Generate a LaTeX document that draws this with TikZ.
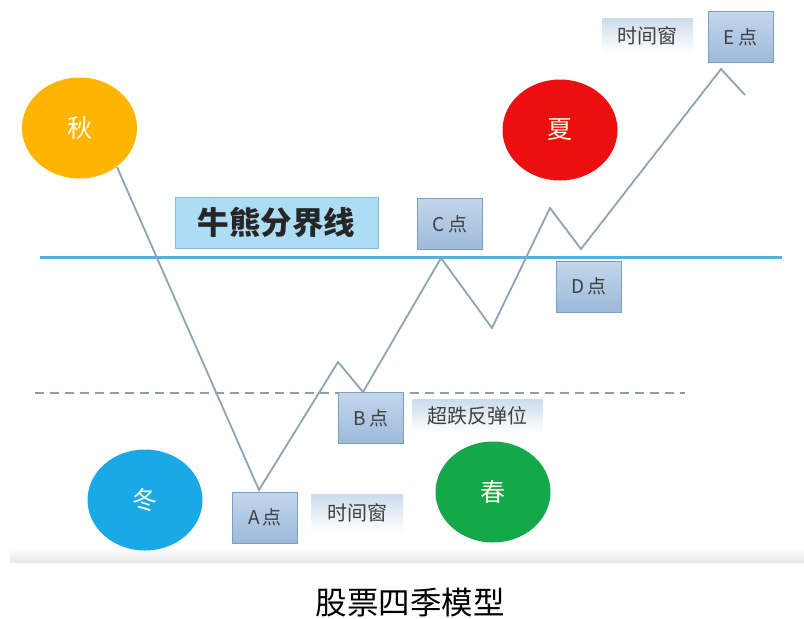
\documentclass[tikz,border=0pt]{standalone}
\usepackage{fontspec}
\setmainfont{Noto Sans CJK SC}
\newfontfamily\cjk{Noto Sans CJK SC}
\usetikzlibrary{shapes.geometric}
\definecolor{cAut}{HTML}{FFB400}
\definecolor{cSum}{HTML}{EC0F0F}
\definecolor{cWin}{HTML}{18A9E6}
\definecolor{cSpr}{HTML}{15A84A}
\definecolor{cLine}{HTML}{8FA3B6}
\definecolor{cBull}{HTML}{4DB3E6}
\definecolor{cDash}{HTML}{8D9DAC}
\definecolor{cPtTop}{HTML}{C3D6EC}
\definecolor{cPtBot}{HTML}{9DBADA}
\definecolor{cPtBd}{HTML}{7F9DBE}
\definecolor{cLabTop}{HTML}{CCDCEC}
\definecolor{cTxt}{HTML}{404040}
\definecolor{cBullFill}{HTML}{ADDDF5}
\definecolor{cBullBd}{HTML}{80BDE0}
\tikzset{
  season/.style={ellipse, minimum width=115pt, minimum height=101pt, inner sep=0pt, text=white!92!yellow, font=\cjk\fontsize{25}{25}\selectfont},
  ptbox/.style={rectangle, minimum width=65pt, minimum height=51pt, inner sep=0pt, top color=cPtTop, bottom color=cPtBot, draw=cPtBd, line width=1pt, text=cTxt, font=\cjk\fontsize{19}{19}\selectfont},
  labbox/.style={rectangle, inner sep=0pt, top color=cLabTop, bottom color=white, text=cTxt, font=\cjk\fontsize{20}{20}\selectfont},
  trend/.style={cLine, line width=1.8pt, line join=miter},
}
\begin{document}
\begin{tikzpicture}[x=1pt,y=-1pt]
\useasboundingbox (0,0) rectangle (804,619);
\fill[white] (0,0) rectangle (804,619);
\shade[top color=white, bottom color=black!9] (10,548) rectangle (804,562);
% seasons
\node[season, fill=cAut] (qiu) at (79.5,128) {秋};
\node[season, fill=cSum] (xia) at (560,130) {夏};
\node[season, fill=cWin] (dong) at (145,500) {冬};
\node[season, fill=cSpr] (chun) at (493,492) {春};
% reference lines
\coordinate (bl) at (40,257);
\coordinate (br) at (782,257);
\draw[cBull, line width=3pt] (bl) -- (br);
\coordinate (dl) at (35,393);
\coordinate (dr) at (685,393);
\draw[cDash, line width=1.5pt, dash pattern=on 9pt off 6pt] (dl) -- (dr);
% bull/bear label
\node[rectangle, minimum width=203pt, minimum height=51pt, inner sep=0pt, fill=cBullFill, draw=cBullBd, line width=1pt, font=\cjk\bfseries\fontsize{31.5}{31.5}\selectfont, text=black!85] (bull) at (276.5,222.5) {牛熊分界线};
% point boxes
\node[ptbox] (A) at (265,517.5) {A\,点};
\node[ptbox] (B) at (371,418) {B\,点};
\node[ptbox] (C) at (450,224) {C\,点};
\node[ptbox] (D) at (589,286.5) {D\,点};
\node[ptbox] (E) at (740.5,37) {E\,点};
% labels
\node[labbox, minimum width=92pt, minimum height=38pt] (twA) at (357,513) {时间窗};
\node[labbox, minimum width=130pt, minimum height=33pt] (oversold) at (477.5,416) {超跌反弹位};
\node[labbox, minimum width=91pt, minimum height=35pt] (twE) at (647.5,35.5) {时间窗};
% trend vertices
\coordinate (p0) at (117,167);
\coordinate (pA) at (259,490);
\coordinate (p1) at (338,362);
\coordinate (pB) at (363,392);
\coordinate (pC) at (441,258);
\coordinate (p2) at (492,328);
\coordinate (p3) at (550,208);
\coordinate (pD) at (581,249);
\coordinate (pE) at (721,69);
\coordinate (p4) at (745,95);
\draw[trend] (p0) -- (pA) -- (p1) -- (pB) -- (pC) -- (p2) -- (p3) -- (pD) -- (pE) -- (p4);
% caption
\node[font=\cjk\fontsize{31.5}{31.5}\selectfont, text=black] (cap) at (410,603) {股票四季模型};
\end{tikzpicture}
\end{document}
